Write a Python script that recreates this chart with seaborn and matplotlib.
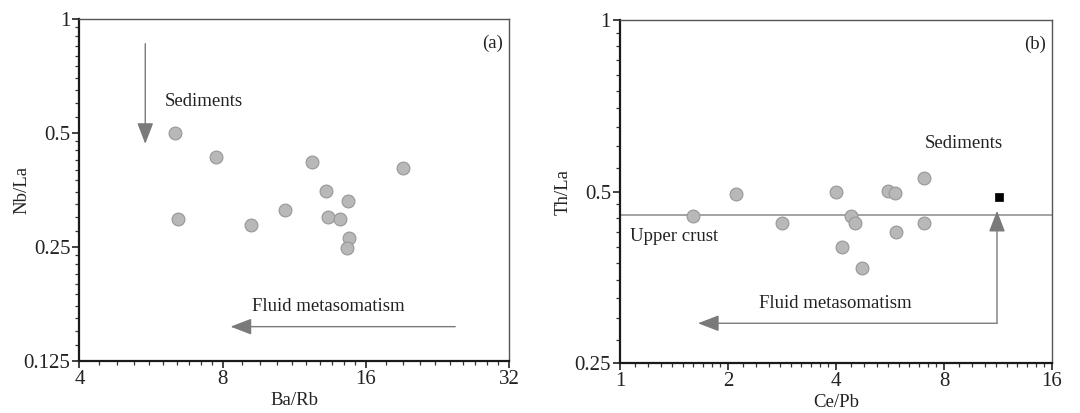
import numpy as np
import pandas as pd
import matplotlib
matplotlib.use("Agg")
import matplotlib.pyplot as plt
from matplotlib.ticker import FixedLocator, FixedFormatter, NullFormatter
import seaborn as sns

# Panel (a) data: Ba/Rb vs Nb/La
ba_rb = [6.34, 6.45, 7.75, 9.18, 10.8, 12.3, 13.2, 13.3, 14.1, 14.65, 14.74, 14.62, 19.2]
nb_la = [0.500, 0.297, 0.433, 0.286, 0.313, 0.420, 0.351, 0.300, 0.297, 0.331, 0.264, 0.249, 0.403]

# Panel (b) data: Ce/Pb vs Th/La
ce_pb = [1.595, 2.10, 2.83, 4.00, 4.15, 4.40, 4.51, 4.74, 5.57, 5.83, 5.89, 7.05, 7.02]
th_la = [0.454, 0.495, 0.441, 0.500, 0.400, 0.453, 0.441, 0.367, 0.502, 0.497, 0.424, 0.528, 0.440]

# Sediment reference point (black square) in panel (b)
sed_ce_pb = [11.4]
sed_th_la = [0.489]

# Upper crust Th/La
upper_crust_th_la = 0.455

# Tick values
a_xticks = [4, 8, 16, 32]
a_yticks = [0.125, 0.25, 0.5, 1]
b_xticks = [1, 2, 4, 8, 16]
b_yticks = [0.25, 0.5, 1]

sns.set_style("white")
plt.rcParams['font.family'] = ['Liberation Serif', 'DejaVu Serif']

fig = plt.figure(figsize=(10.8, 4.13), dpi=100)
ax1 = fig.add_axes([0.0736, 0.126, 0.3977, 0.828])
ax2 = fig.add_axes([0.5741, 0.120, 0.4000, 0.832])

pt_color = "#b8b8b8"
pt_edge = "#979797"
arrow_color = "#7a7a7a"
head = "-|>,head_length=1.3,head_width=0.5"


def minor_ticks(lo, hi):
    vals = []
    a = lo
    while a < hi:
        vals.extend([a * (1 + k / 10) for k in range(1, 10)])
        a *= 2
    return vals


def style_axes(ax, xticks, yticks, xlim, ylim, xlabel, ylabel, ylabelpad):
    ax.set_xscale("log", base=2)
    ax.set_yscale("log", base=2)
    ax.set_xlim(*xlim)
    ax.set_ylim(*ylim)
    ax.xaxis.set_major_locator(FixedLocator(xticks))
    ax.xaxis.set_major_formatter(FixedFormatter([f"{v:g}" for v in xticks]))
    ax.yaxis.set_major_locator(FixedLocator(yticks))
    ax.yaxis.set_major_formatter(FixedFormatter([f"{v:g}" for v in yticks]))
    ax.xaxis.set_minor_locator(FixedLocator(minor_ticks(xlim[0], xlim[1])))
    ax.yaxis.set_minor_locator(FixedLocator(minor_ticks(ylim[0], ylim[1])))
    ax.xaxis.set_minor_formatter(NullFormatter())
    ax.yaxis.set_minor_formatter(NullFormatter())
    ax.tick_params(which="major", direction="out", length=5, width=1.2,
                   labelsize=15, pad=1.5, colors="#222222", bottom=True, left=True)
    ax.tick_params(which="minor", direction="out", length=3, width=0.9,
                   bottom=True, left=True, colors="#333333")
    for s in ["left", "bottom"]:
        ax.spines[s].set_color("#1a1a1a")
        ax.spines[s].set_linewidth(1.6)
    for s in ["top", "right"]:
        ax.spines[s].set_color("#555555")
        ax.spines[s].set_linewidth(1.0)
    ax.set_xlabel(xlabel, fontsize=13.5, labelpad=2, color="#222222")
    ax.set_ylabel(ylabel, fontsize=13.5, labelpad=ylabelpad, color="#222222")


# Panel (a)
df_a = pd.DataFrame({"Ba/Rb": ba_rb, "Nb/La": nb_la})
sns.scatterplot(data=df_a, x="Ba/Rb", y="Nb/La", ax=ax1, s=85, color=pt_color,
                edgecolor=pt_edge, linewidth=0.8, zorder=3)
style_axes(ax1, a_xticks, a_yticks, (4, 32), (0.125, 1), "Ba/Rb", "Nb/La", -5)
ax1.annotate("", xy=(5.5, 0.46), xytext=(5.5, 0.875),
             arrowprops=dict(arrowstyle=head, color=arrow_color, lw=1.0))
ax1.annotate("", xy=(8.2, 0.154), xytext=(25.0, 0.154),
             arrowprops=dict(arrowstyle=head, color=arrow_color, lw=1.0))
ax1.text(6.05, 0.605, "Sediments", fontsize=13.5, va="center", ha="left", color="#222222")
ax1.text(9.2, 0.174, "Fluid metasomatism", fontsize=13.5, va="center", ha="left", color="#222222")
ax1.text(0.985, 0.93, "(a)", transform=ax1.transAxes, fontsize=13.5, ha="right",
         va="center", color="#222222")

# Panel (b)
df_b = pd.DataFrame({"Ce/Pb": ce_pb, "Th/La": th_la})
ax2.axhline(upper_crust_th_la, color="#8a8a8a", lw=1.1, zorder=2)
sns.scatterplot(data=df_b, x="Ce/Pb", y="Th/La", ax=ax2, s=85, color=pt_color,
                edgecolor=pt_edge, linewidth=0.8, zorder=3)
sns.scatterplot(x=sed_ce_pb, y=sed_th_la, ax=ax2, marker="s", s=40, color="black",
                edgecolor="black", zorder=4)
style_axes(ax2, b_xticks, b_yticks, (1, 16), (0.25, 1), "Ce/Pb", "Th/La", 2)
corner_x, corner_y = 11.24, 0.294
ax2.annotate("", xy=(1.62, corner_y), xytext=(corner_x, corner_y),
             arrowprops=dict(arrowstyle=head, color=arrow_color, lw=1.0, shrinkA=0))
ax2.annotate("", xy=(corner_x, 0.468), xytext=(corner_x, corner_y),
             arrowprops=dict(arrowstyle=head, color=arrow_color, lw=1.0, shrinkA=0))
ax2.text(7.09, 0.606, "Sediments", fontsize=13.5, va="center", ha="left", color="#222222")
ax2.text(1.066, 0.418, "Upper crust", fontsize=13.5, va="center", ha="left", color="#222222")
ax2.text(2.44, 0.318, "Fluid metasomatism", fontsize=13.5, va="center", ha="left", color="#222222")
ax2.text(0.985, 0.93, "(b)", transform=ax2.transAxes, fontsize=13.5, ha="right",
         va="center", color="#222222")

fig.savefig("out.png", dpi=100)
